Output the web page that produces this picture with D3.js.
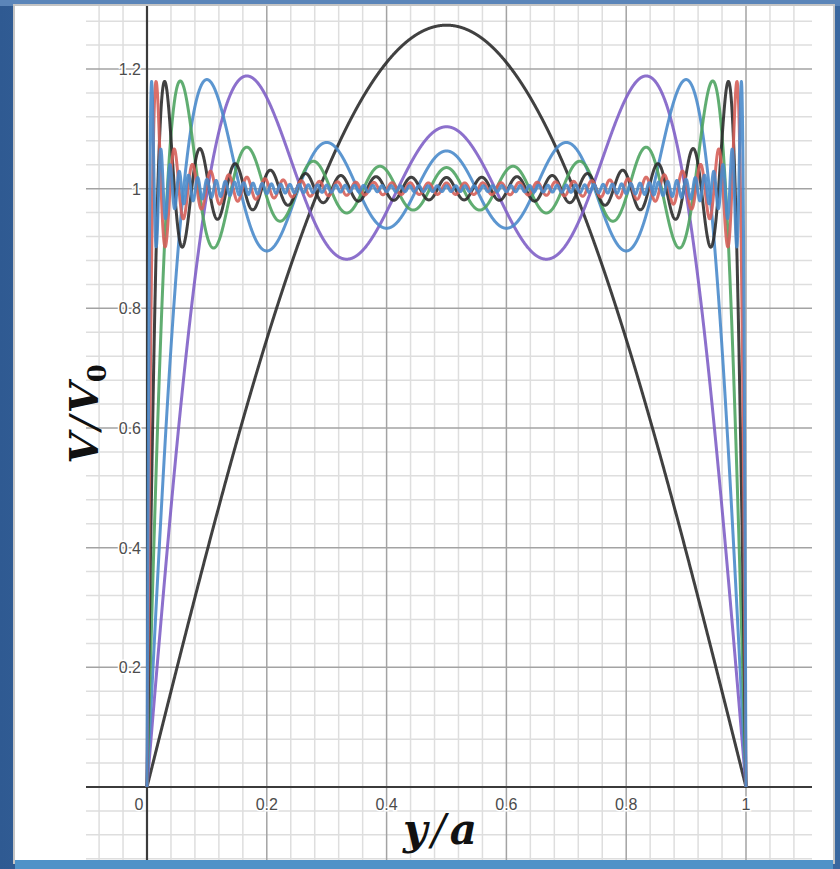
<!DOCTYPE html>
<html>
<head>
<meta charset="utf-8">
<script src="https://cdn.jsdelivr.net/npm/d3@7"></script>
<style>
  html, body { margin: 0; padding: 0; }
  body { width: 840px; height: 869px; overflow: hidden;
         background: linear-gradient(90deg, #2f5a92 0%, #4a76ad 50%, #3a679f 100%); }
  svg { display: block; }
</style>
</head>
<body>
<div id="chart"></div>
<script>
// partial sums of the square-wave series, number of odd terms in each curve
var termCounts = [1, 3, 5, 9, 17, 33, 65];
var curveColors = ["#2b2b2b", "#7f5fc6", "#4a8bcb", "#4fa462", "#2b2b2b", "#d65f5a", "#4a8bcb"];
var xTicks = [0, 0.2, 0.4, 0.6, 0.8, 1];
var xTickLabels = ["0", "0.2", "0.4", "0.6", "0.8", "1"];
var yTicks = [0.2, 0.4, 0.6, 0.8, 1, 1.2];
var yTickLabels = ["0.2", "0.4", "0.6", "0.8", "1", "1.2"];

var W = 840, H = 869;
var svg = d3.select("#chart").append("svg").attr("width", W).attr("height", H);

var defs = svg.append("defs");
defs.append("filter").attr("id", "soft").append("feGaussianBlur").attr("stdDeviation", 0.55);

// slide frame
svg.append("rect").attr("x", 0).attr("y", 0).attr("width", W).attr("height", 6).attr("fill", "#5b85b9");
svg.append("rect").attr("x", 13).attr("y", 4).attr("width", 822).attr("height", 860).attr("fill", "#c4c4c4");
svg.append("rect").attr("x", 15).attr("y", 6).attr("width", 818).attr("height", 856).attr("fill", "#ffffff");
svg.append("rect").attr("x", 15).attr("y", 860).attr("width", 818).attr("height", 9).attr("fill", "#4f92c8");

var x = d3.scaleLinear().domain([0, 1]).range([147, 746]);
var y = d3.scaleLinear().domain([0, 1.2]).range([787, 69]);
var x1 = x.invert(812);
var y1 = y.invert(6);

defs.append("clipPath").attr("id", "plotclip").append("rect")
    .attr("x", 86).attr("y", 6).attr("width", 812 - 86).attr("height", 860 - 6);

var plot = svg.append("g").attr("clip-path", "url(#plotclip)")
    .append("g").attr("filter", "url(#soft)");

// grid
var minorX = d3.range(-0.08, x1, 0.04).filter(function(d){ return Math.abs(Math.round(d / 0.2) * 0.2 - d) > 1e-6; });
var minorY = d3.range(-0.12, y1, 0.04).filter(function(d){ return Math.abs(Math.round(d / 0.2) * 0.2 - d) > 1e-6; });
var majorX = d3.range(-0.2, x1, 0.2);
var majorY = d3.range(-0.2, y1, 0.2);

plot.selectAll("line.minx").data(minorX).enter().append("line")
    .attr("x1", function(d){ return x(d); }).attr("x2", function(d){ return x(d); })
    .attr("y1", 6).attr("y2", 860).attr("stroke", "#dedede").attr("stroke-width", 1.5);
plot.selectAll("line.miny").data(minorY).enter().append("line")
    .attr("y1", function(d){ return y(d); }).attr("y2", function(d){ return y(d); })
    .attr("x1", 86).attr("x2", 812).attr("stroke", "#dedede").attr("stroke-width", 1.5);
plot.selectAll("line.majx").data(majorX).enter().append("line")
    .attr("x1", function(d){ return x(d); }).attr("x2", function(d){ return x(d); })
    .attr("y1", 6).attr("y2", 860).attr("stroke", "#a3a3a3").attr("stroke-width", 1.5);
plot.selectAll("line.majy").data(majorY).enter().append("line")
    .attr("y1", function(d){ return y(d); }).attr("y2", function(d){ return y(d); })
    .attr("x1", 86).attr("x2", 812).attr("stroke", "#a3a3a3").attr("stroke-width", 1.5);

// axes
plot.append("line").attr("x1", 86).attr("x2", 812).attr("y1", y(0)).attr("y2", y(0))
    .attr("stroke", "#3a3a3a").attr("stroke-width", 2.2);
plot.append("line").attr("x1", x(0)).attr("x2", x(0)).attr("y1", 6).attr("y2", 860)
    .attr("stroke", "#3a3a3a").attr("stroke-width", 2.2);

// curves
function partialSum(n, t) {
    var s = 0;
    for (var k = 1; k <= n; k++) {
        var m = 2 * k - 1;
        s += Math.sin(m * Math.PI * t) / m;
    }
    return 4 / Math.PI * s;
}
var samples = d3.range(0, 3001).map(function(i){ return i / 3000; });
var line = d3.line().x(function(d){ return x(d[0]); }).y(function(d){ return y(d[1]); });

termCounts.forEach(function(n, i){
    var pts = samples.map(function(t){ return [t, partialSum(n, t)]; });
    plot.append("path").datum(pts).attr("d", line)
        .attr("fill", "none").attr("stroke", curveColors[i])
        .attr("stroke-width", 3).attr("stroke-opacity", 0.9)
        .attr("stroke-linejoin", "round");
});

// tick labels
var lab = svg.append("g").style("font-family", "'Liberation Sans', Arial, sans-serif")
    .style("font-size", "16px").attr("fill", "#4c4c4c");
lab.selectAll("text.xl").data(xTicks).enter().append("text")
    .attr("x", function(d){ return d === 0 ? x(d) - 8 : x(d); })
    .attr("y", y(0) + 23).attr("text-anchor", "middle")
    .attr("stroke", "#fff").attr("stroke-width", 3).attr("paint-order", "stroke")
    .text(function(d, i){ return xTickLabels[i]; });
lab.selectAll("text.yl").data(yTicks).enter().append("text")
    .attr("x", x(0) - 6).attr("y", function(d){ return y(d) + 6; })
    .attr("text-anchor", "end")
    .attr("stroke", "#fff").attr("stroke-width", 3).attr("paint-order", "stroke")
    .text(function(d, i){ return yTickLabels[i]; });

// axis titles
var yt = svg.append("text").attr("transform", "translate(98,414) rotate(-90)")
    .attr("text-anchor", "middle")
    .style("font-family", "'DejaVu Serif', serif")
    .style("font-weight", "bold").style("font-style", "italic")
    .style("font-size", "40px").attr("fill", "#111");
yt.append("tspan").text("V");
yt.append("tspan").attr("dx", 3).style("font-weight", "normal").text("/");
yt.append("tspan").attr("dx", 3).text("V");
yt.append("tspan").attr("dy", 8).style("font-style", "normal").style("font-size", "26px").text("0");

var xt = svg.append("text").attr("x", 440).attr("y", 844).attr("text-anchor", "middle")
    .style("font-family", "'DejaVu Serif', serif")
    .style("font-weight", "bold").style("font-style", "italic")
    .style("font-size", "42px").attr("fill", "#111");
xt.append("tspan").text("y");
xt.append("tspan").attr("dx", 4).style("font-weight", "normal").text("/");
xt.append("tspan").attr("dx", 4).text("a");
</script>
</body>
</html>
